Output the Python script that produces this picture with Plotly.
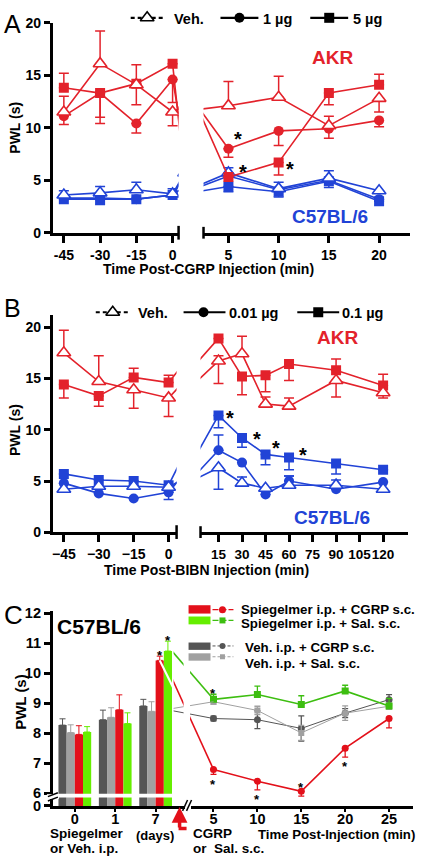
import plotly.graph_objects as go

W, H = 421, 863
def X(p): return p / W
def Y(p): return 1 - p / H

FONT = 'Liberation Sans, Arial, sans-serif'
RED = '#E3222B'
BLUE = '#2143D6'
C_RED = '#E3101A'
C_GREEN = '#66EE00'
C_GREEN_LINE = '#3DBE10'
C_DARK = '#555555'
C_LIGHT = '#A0A0A0'

# ---------------- Panel A data ----------------
a_time_pre = [-45, -30, -15, 0]
a_time_post = [5, 10, 15, 20]
a_akr_veh = [11.5, 16.1, 14.1, 11.5, 12.1, 12.9, 10.2, 12.8]
a_akr_veh_up = [1.5, 3.1, 0, 0, 2.3, 2.0, 0.9, 0]
a_akr_veh_dn = [0, 0, 1.9, 1.3, 0, 0, 0, 1.3]
a_akr_1ug = [11.1, 13.3, 10.4, 14.6, 8.0, 9.7, 9.9, 10.7]
a_akr_1ug_up = [0, 0, 0, 0, 0, 0, 0, 0]
a_akr_1ug_dn = [0.8, 2.9, 0.9, 2.2, 0.8, 1.4, 0.9, 0.6]
a_akr_5ug = [13.8, 13.3, 14.2, 16.1, 5.3, 6.7, 13.3, 14.1]
a_akr_5ug_up = [1.4, 0, 1.8, 0, 0, 0, 0, 1.0]
a_akr_5ug_dn = [0, 2.3, 0, 0, 0, 1.2, 1.1, 0]
a_b6_veh = [3.6, 3.8, 4.1, 3.7, 5.7, 4.2, 5.2, 4.0]
a_b6_veh_up = [0.4, 0.6, 0.7, 0.5, 0.5, 0.6, 0.7, 0]
a_b6_veh_dn = [0, 0, 0, 0, 0, 0, 0, 0]
a_b6_1ug = [3.3, 3.3, 3.2, 3.6, 5.4, 4.1, 5.0, 3.2]
a_b6_1ug_up = [0, 0, 0, 0, 0, 0, 0, 0]
a_b6_1ug_dn = [0, 0, 0, 0, 0, 0, 0, 0]
a_b6_5ug = [3.2, 3.2, 3.2, 3.6, 4.4, 3.9, 4.9, 3.0]
a_b6_5ug_up = [0, 0, 0, 0, 0, 0, 0, 0]
a_b6_5ug_dn = [0, 0.5, 0, 0, 0.5, 0.5, 0.6, 0]

# ---------------- Panel B data ----------------
b_time_pre = [-45, -30, -15, 0]
b_time_post = [15, 30, 45, 60, 90, 120]
b_ticks_post = [15, 30, 45, 60, 75, 90, 105, 120]
b_akr_veh = [17.5, 14.7, 13.9, 13.1, 16.7, 17.4, 12.5, 12.3, 14.8, 13.6]
b_akr_veh_up = [2.2, 2.5, 0, 0, 0.5, 1.7, 0.7, 0.8, 0, 0]
b_akr_veh_dn = [0, 0, 1.8, 1.8, 2.2, 0, 0, 0, 1.6, 0.5]
b_akr_01 = [14.4, 13.3, 15.1, 14.6, 18.9, 15.2, 15.3, 16.4, 15.8, 14.3]
b_akr_01_up = [0, 0, 0.9, 0.7, 0, 0, 0, 0, 1.1, 1.1]
b_akr_01_dn = [1.3, 1.0, 0, 0, 0, 1.8, 1.6, 1.6, 0, 0]
b_b6_veh = [4.2, 4.5, 4.5, 4.4, 6.3, 4.8, 4.3, 4.6, 4.6, 4.2]
b_b6_veh_up = [0, 0, 0, 0, 0, 0.6, 0, 0.9, 0.5, 0]
b_b6_veh_dn = [0.3, 0, 0, 0, 2.1, 0, 0, 0, 0, 0]
b_b6_001 = [4.8, 3.8, 3.3, 3.9, 8.0, 6.8, 3.7, 5.0, 4.2, 4.9]
b_b6_001_up = [0, 0, 0, 0, 1.5, 0, 0, 0.5, 0, 0]
b_b6_001_dn = [0, 0, 0, 0.7, 0, 0, 0, 0, 0, 0]
b_b6_01 = [5.7, 5.1, 5.0, 4.6, 11.4, 9.2, 7.6, 7.3, 6.7, 6.1]
b_b6_01_up = [0, 0, 0, 0, 0, 0, 0, 0, 0, 0]
b_b6_01_dn = [0, 0, 0, 0, 1.2, 0.9, 1.0, 1.2, 1.0, 0]

# ---------------- Panel C data ----------------
c_days = ['0', '1', '7']
c_bar_veh_cgrp = [8.27, 8.45, 8.91]
c_bar_veh_cgrp_err = [0.21, 0.32, 0.22]
c_bar_veh_sal = [8.02, 8.53, 8.73]
c_bar_veh_sal_err = [0.26, 0.32, 0.32]
c_bar_sp_cgrp = [7.96, 8.78, 10.43]
c_bar_sp_cgrp_err = [0.29, 0.50, 0.14]
c_bar_sp_sal = [8.04, 8.32, 10.74]
c_bar_sp_sal_err = [0.18, 0.36, 0.33]

c_time = [5, 10, 15, 20, 25]
c_sp_cgrp = [6.79, 6.40, 6.06, 7.50, 8.49]
c_sp_cgrp_dn = [0.16, 0.29, 0.16, 0.30, 0.31]
c_sp_sal = [9.13, 9.29, 8.96, 9.41, 8.91]
c_sp_sal_up = [0.17, 0.28, 0.29, 0.19, 0.25]
c_veh_cgrp = [8.49, 8.45, 8.16, 8.67, 9.12]
c_veh_cgrp_err = [0.08, 0.30, 0.42, 0.15, 0.17]
c_veh_sal = [9.05, 8.76, 8.01, 8.67, 8.90]
c_veh_sal_err = [0.08, 0.14, 0.25, 0.24, 0.10]

fig = go.Figure()

def eb(up, dn, color, th=1.5, w=5):
    return dict(type='data', symmetric=False, array=up, arrayminus=dn,
                color=color, thickness=th, width=w, visible=True)

def mk(sym, color, size):
    if sym == 'tri':
        return dict(symbol='triangle-up', size=size + 2, color='white',
                    line=dict(color=color, width=1.6))
    return dict(symbol=sym, size=size, color=color, line=dict(width=0))

def add_split(vals, up, dn, pre, post, color, sym, xl, xr, yax, bridge):
    n = len(pre)
    fig.add_trace(go.Scatter(
        x=pre + [post[0]], y=vals[:n + 1], mode='lines+markers',
        line=dict(color=color, width=1.6), marker=mk(sym, color, 10),
        error_y=eb(up[:n] + [0], dn[:n] + [0], color),
        xaxis=xl, yaxis=yax, showlegend=False, hoverinfo='skip'))
    fig.add_trace(go.Scatter(
        x=[bridge] + post, y=vals[n - 1:], mode='lines+markers',
        line=dict(color=color, width=1.6), marker=mk(sym, color, 10),
        error_y=eb([0] + up[n:], [0] + dn[n:], color),
        xaxis=xr, yaxis=yax, showlegend=False, hoverinfo='skip'))

# Panel A traces
for v, u, d, c, s in [
    (a_b6_5ug, a_b6_5ug_up, a_b6_5ug_dn, BLUE, 'square'),
    (a_b6_1ug, a_b6_1ug_up, a_b6_1ug_dn, BLUE, 'circle'),
    (a_b6_veh, a_b6_veh_up, a_b6_veh_dn, BLUE, 'tri'),
    (a_akr_5ug, a_akr_5ug_up, a_akr_5ug_dn, RED, 'square'),
    (a_akr_1ug, a_akr_1ug_up, a_akr_1ug_dn, RED, 'circle'),
    (a_akr_veh, a_akr_veh_up, a_akr_veh_dn, RED, 'tri')]:
    add_split(v, u, d, a_time_pre, a_time_post, c, s, 'x', 'x2', 'y', a_time_pre[-1])

# Panel B traces
for v, u, d, c, s in [
    (b_b6_01, b_b6_01_up, b_b6_01_dn, BLUE, 'square'),
    (b_b6_001, b_b6_001_up, b_b6_001_dn, BLUE, 'circle'),
    (b_b6_veh, b_b6_veh_up, b_b6_veh_dn, BLUE, 'tri'),
    (b_akr_01, b_akr_01_up, b_akr_01_dn, RED, 'square'),
    (b_akr_veh, b_akr_veh_up, b_akr_veh_dn, RED, 'tri')]:
    add_split(v, u, d, b_time_pre, b_time_post, c, s, 'x3', 'x4', 'y2', -10)

# Panel C geometry
xb_dom = (52, 184)
xb_rng = (-0.543, 2.716)
bar_ppu = (xb_dom[1] - xb_dom[0]) / (xb_rng[1] - xb_rng[0])
bargap = 0.19
bw = (1 - bargap) / 4
xl_dom = (190, 413)
xl_rng = (2.386, 27.73)
line_ppu = (xl_dom[1] - xl_dom[0]) / (xl_rng[1] - xl_rng[0])
def px_to_line(p):
    return xl_rng[0] + (p - xl_dom[0]) / line_ppu
def bar_right_px(k, i):
    xv = k - (1 - bargap) / 2 + bw * (i + 1)
    return xb_dom[0] + (xv - xb_rng[0]) * bar_ppu
xc_dom = (173, 413)
xw_dom = (52, 178)

bar_sets = [
    (c_bar_veh_cgrp, c_bar_veh_cgrp_err, C_DARK),
    (c_bar_veh_sal, c_bar_veh_sal_err, C_LIGHT),
    (c_bar_sp_cgrp, c_bar_sp_cgrp_err, C_RED),
    (c_bar_sp_sal, c_bar_sp_sal_err, C_GREEN),
]
for vals, err, col in bar_sets:
    fig.add_trace(go.Bar(
        x=list(range(len(c_days))), y=vals, marker=dict(color=col, line=dict(width=0)),
        error_y=dict(type='data', array=err, arrayminus=[0] * len(err), symmetric=False,
                     color=col, thickness=1, width=3),
        xaxis='x5', yaxis='y3', showlegend=False, hoverinfo='skip'))

line_sets = [
    (c_veh_cgrp, c_veh_cgrp_err, c_veh_cgrp_err, C_DARK, 'circle', 1.0, 7, 0),
    (c_veh_sal, c_veh_sal_err, c_veh_sal_err, C_LIGHT, 'square', 1.0, 6, 1),
    (c_sp_sal, c_sp_sal_up, [0] * 5, C_GREEN_LINE, 'square', 1.6, 7, 3),
    (c_sp_cgrp, [0] * 5, c_sp_cgrp_dn, C_RED, 'circle', 1.6, 7, 2),
]
# connecting segments from day-7 bars to first post-injection point
for vals, up, dn, col, sym, lw, ms, bi in line_sets:
    bvals = bar_sets[bi][0]
    x0 = px_to_line(bar_right_px(2, bi))
    fig.add_trace(go.Scatter(
        x=[x0, c_time[0]], y=[bvals[2], vals[0]], mode='lines',
        line=dict(color=col, width=lw), xaxis='x7', yaxis='y3',
        showlegend=False, hoverinfo='skip'))
# white stroke of the red connector over the bars
x0r = px_to_line(bar_right_px(2, 2) - bw * bar_ppu / 2)
fig.add_trace(go.Scatter(
    x=[x0r, c_time[0]], y=[c_bar_sp_cgrp[2], c_sp_cgrp[0]], mode='lines',
    line=dict(color='white', width=2.2), xaxis='x8', yaxis='y3',
    showlegend=False, hoverinfo='skip'))
for vals, up, dn, col, sym, lw, ms, bi in line_sets:
    fig.add_trace(go.Scatter(
        x=c_time, y=vals, mode='lines+markers',
        line=dict(color=col, width=lw),
        marker=dict(symbol=sym, size=ms, color=col),
        error_y=eb(up, dn, col, th=1.3, w=3),
        xaxis='x6', yaxis='y3', showlegend=False, hoverinfo='skip'))

# Legend keys (pixel overlay axis)
def key(x0, x1, y, sym, color, dash='solid', lw=2.2, ms=10, xm=None):
    fig.add_trace(go.Scatter(x=[x0, x1], y=[y, y], mode='lines',
                             line=dict(color=color, width=lw, dash=dash),
                             xaxis='x9', yaxis='y4', showlegend=False, hoverinfo='skip'))
    fig.add_trace(go.Scatter(x=[xm if xm is not None else (x0 + x1) / 2], y=[y], mode='markers',
                             marker=mk(sym, color, ms), xaxis='x9', yaxis='y4',
                             showlegend=False, hoverinfo='skip'))

key(130, 163, 10, 'tri', 'black', dash='4px,3px')
key(220, 258, 10, 'circle', 'black')
key(310, 348, 10, 'square', 'black')
key(95, 129, 310, 'tri', 'black', dash='4px,3px')
key(183, 225, 310, 'circle', 'black', xm=203)
key(297, 339, 310, 'square', 'black', xm=318)
key(212, 233, 613, 'circle', C_RED, dash='6px,2px', lw=1.2, ms=7, xm=222)
key(212, 233, 624, 'square', C_GREEN_LINE, dash='6px,2px', lw=1.2, ms=6, xm=222)
key(212, 233, 650, 'circle', C_DARK, dash='3px,2px', lw=1, ms=6, xm=222)
key(212, 233, 661, 'square', C_LIGHT, dash='3px,2px', lw=1, ms=5, xm=222)

tickfont = dict(family=FONT, size=14, color='black', weight='bold')
common_x = dict(showgrid=False, zeroline=False, showline=True, linecolor='black',
                linewidth=3, ticks='outside', ticklen=7, tickwidth=2.5, tickcolor='black',
                tickfont=tickfont, fixedrange=True, tickangle=0)
common_y = dict(showgrid=False, zeroline=False, showline=True, linecolor='black',
                linewidth=3, ticks='outside', ticklen=6, tickwidth=2.5, tickcolor='black',
                tickfont=tickfont, fixedrange=True)
hidden = dict(visible=False, fixedrange=True, showgrid=False, zeroline=False)

layout = dict(
    width=W, height=H, margin=dict(l=0, r=0, t=0, b=0),
    paper_bgcolor='white', plot_bgcolor='rgba(0,0,0,0)', showlegend=False,
    barmode='group', bargap=bargap, bargroupgap=0,
    font=dict(family=FONT, color='black'),
    # Panel A
    xaxis=dict(common_x, domain=[X(52), X(178)], range=[-49.54, 2.48], anchor='y',
               tickvals=a_time_pre, ticktext=[str(t) for t in a_time_pre]),
    xaxis2=dict(common_x, domain=[X(203), X(410)], range=[2.52, 23.08], anchor='y',
                tickvals=a_time_post),
    yaxis=dict(common_y, domain=[Y(229), Y(15)], range=[0, 20], anchor='x',
               tickvals=[0, 5, 10, 15, 20]),
    # Panel B
    xaxis3=dict(common_x, domain=[X(52), X(176)], range=[-49.71, 3.43], anchor='y2',
                tickvals=b_time_pre),
    xaxis4=dict(common_x, domain=[X(200), X(408)], range=[3.54, 135.9], anchor='y2',
                tickvals=b_ticks_post, tickfont=dict(tickfont, size=13.5)),
    yaxis2=dict(common_y, domain=[Y(534.3), Y(313)], range=[0, 21.16], anchor='x3',
                tickvals=[0, 5, 10, 15, 20]),
    # Panel C
    xaxis5=dict(common_x, domain=[X(xb_dom[0]), X(xb_dom[1])], range=list(xb_rng), anchor='y3',
                tickvals=list(range(len(c_days))), ticktext=c_days, ticklen=3, tickwidth=1.5,
                ticklabelstandoff=-5, tickfont=dict(tickfont, size=14.5)),
    xaxis6=dict(common_x, domain=[X(xl_dom[0]), X(xl_dom[1])], range=list(xl_rng), anchor='y3',
                tickvals=c_time, ticklen=3, tickwidth=1.5, ticklabelstandoff=-5,
                tickfont=dict(tickfont, size=14.5)),
    xaxis7=dict(hidden, domain=[X(xc_dom[0]), X(xc_dom[1])],
                range=[px_to_line(xc_dom[0]), px_to_line(xc_dom[1])], anchor='y3'),
    xaxis8=dict(hidden, domain=[X(xw_dom[0]), X(xw_dom[1])],
                range=[px_to_line(xw_dom[0]), px_to_line(xw_dom[1])], anchor='y3'),
    yaxis3=dict(common_y, domain=[Y(813), Y(614)], range=[5.574, 12.09], anchor='x5',
                tickvals=[5.574, 6, 7, 8, 9, 10, 11, 12],
                ticktext=['0', '6', '7', '8', '9', '10', '11', '12'],
                tickfont=dict(tickfont, size=14.5)),
    # pixel overlay for legends
    xaxis9=dict(hidden, domain=[0, 1], range=[0, W], anchor='y4'),
    yaxis4=dict(hidden, domain=[0, 1], range=[H, 0], anchor='x9'),
)
fig.update_layout(**layout)

ann = []
def text(x, y, s, size=14, color='black', xanchor='center', weight='bold', angle=0):
    ann.append(dict(x=X(x), y=Y(y), xref='paper', yref='paper', text=s, showarrow=False,
                    xanchor=xanchor, yanchor='middle', textangle=angle,
                    font=dict(family=FONT, size=size, color=color, weight=weight)))

# Panel letters
text(12, 16, 'A', size=25, weight='normal')
text(12, 306, 'B', size=25, weight='normal')
text(13, 618, 'C', size=26, weight='normal')
# Legends
text(171, 11, 'Veh.', size=14.5, xanchor='left')
text(261, 11, '1 µg', size=14.5, xanchor='left')
text(351, 11, '5 µg', size=14.5, xanchor='left')
text(135, 311, 'Veh.', size=14.5, xanchor='left')
text(227, 311, '0.01 µg', size=14.5, xanchor='left')
text(340, 311, '0.1 µg', size=14.5, xanchor='left')
text(239, 613, 'Spiegelmer i.p. + CGRP s.c.', size=13.3, xanchor='left')
text(239, 627, 'Spiegelmer i.p. + Sal. s.c.', size=13.3, xanchor='left')
text(243, 652, 'Veh. i.p. + CGRP s.c.', size=13.3, xanchor='left')
text(243, 668, 'Veh. i.p. + Sal. s.c.', size=13.3, xanchor='left')
# Strain labels
text(332, 50, 'AKR', size=19, color=RED)
text(330, 212, 'C57BL/6', size=19, color=BLUE)
text(337, 336, 'AKR', size=19, color=RED)
text(332, 519, 'C57BL/6', size=19, color=BLUE)
text(98, 630, 'C57BL/6', size=21)
# Axis titles
text(208, 266, 'Time Post-CGRP Injection (min)', size=14)
text(206, 573, 'Time Post-BIBN Injection (min)', size=14)
text(14, 122, 'PWL (s)', size=14, angle=-90)
text(14, 430, 'PWL (s)', size=14, angle=-90)
text(20, 707, 'PWL (s)', size=15, angle=-90)
text(47, 841.5, 'Spiegelmer', size=13.5, xanchor='left')
text(47, 856, 'or Veh. i.p.', size=13.5, xanchor='left')
text(133, 843, '(days)', size=13, xanchor='left')
text(190, 841.5, 'CGRP', size=13.5, xanchor='left')
text(190, 856, 'or  Sal. s.c.', size=13.5, xanchor='left')
text(256, 842, 'Time Post-Injection (min)', size=13.2, xanchor='left')

# Significance stars (anchored to data points)
def star(xref, yref, x, y, dx, dy, size=20):
    ann.append(dict(x=x, y=y, xref=xref, yref=yref, text='*', showarrow=False,
                    xanchor='center', yanchor='middle', xshift=dx, yshift=dy,
                    font=dict(family=FONT, size=size, color='black', weight='bold')))

star('x2', 'y', a_time_post[0], a_akr_1ug[4], 10, 10)
star('x2', 'y', a_time_post[0], a_akr_5ug[4], 15, 5)
star('x2', 'y', a_time_post[1], a_akr_5ug[5], 11, -7)
star('x4', 'y2', b_time_post[0], b_b6_01[4], 12, -3)
star('x4', 'y2', b_time_post[1], b_b6_01[5], 15, -1)
star('x4', 'y2', b_time_post[2], b_b6_01[6], 10, 6)
star('x4', 'y2', b_time_post[3], b_b6_01[7], 14, 2)
star('x6', 'y3', c_time[0], c_sp_sal[0], 0, 6, size=13)
star('x6', 'y3', c_time[0], c_sp_cgrp[0], 0, -15, size=13)
star('x6', 'y3', c_time[1], c_sp_cgrp[1], 0, -18, size=13)
star('x6', 'y3', c_time[2], c_sp_cgrp[2], 0, 4, size=13)
star('x6', 'y3', c_time[3], c_sp_cgrp[3], 0, -18, size=13)
star('x5', 'y3', 2 + bw * 0.5, c_bar_sp_cgrp[2], 0, 5, size=13)
star('x5', 'y3', 2 + bw * 1.5, c_bar_sp_sal[2], 0, 11, size=13)

# Red arrow (CGRP / saline injection)
ann.append(dict(x=X(179), y=Y(814), xref='paper', yref='paper', ax=0, ay=22,
                axref='pixel', ayref='pixel', showarrow=True, arrowhead=2, arrowsize=0.9,
                arrowwidth=3.5, arrowcolor=C_RED, text=''))
fig.update_layout(annotations=ann)

shapes = []
def line(x0, y0, x1, y1, color='black', w=2):
    shapes.append(dict(type='line', xref='paper', yref='paper', x0=X(x0), y0=Y(y0),
                       x1=X(x1), y1=Y(y1), line=dict(color=color, width=w), layer='above'))
def rect(x0, y0, x1, y1, color, layer='above'):
    shapes.append(dict(type='rect', xref='paper', yref='paper', x0=X(x0), y0=Y(y0),
                       x1=X(x1), y1=Y(y1), fillcolor=color, line=dict(width=0), layer=layer))

# axis break caps, A and B
line(178, 222, 178, 236, w=2.5)
line(203, 223, 203, 235, w=2.5)
line(176, 527, 176, 541, w=2.5)
line(200, 528, 200, 540, w=2.5)
# Panel C: band through bars and axis breaks
rect(54, 800.5, 184, 804.5, 'white')
rect(46, 801, 58, 806, 'white')
line(47, 803.5, 57, 799.5, w=1.5)
line(47, 808, 57, 804, w=1.5)
rect(183, 640, 189.5, 800, 'white')
line(182, 818, 187, 807, w=1.5)
line(186, 818, 191, 807, w=1.5)
# arrow foot
line(178, 836, 186, 836, color=C_RED, w=3.5)
# C legend swatches
rect(188, 608.5, 210, 617, C_RED)
rect(188, 620, 210, 628, C_GREEN)
rect(188, 646.5, 210, 654, C_DARK)
rect(188, 657.5, 210, 665, C_LIGHT)
fig.update_layout(shapes=shapes)

fig.write_html("out.html", config={'displayModeBar': False},
               post_script="document.body.style.margin='0';document.body.style.overflow='hidden';")
